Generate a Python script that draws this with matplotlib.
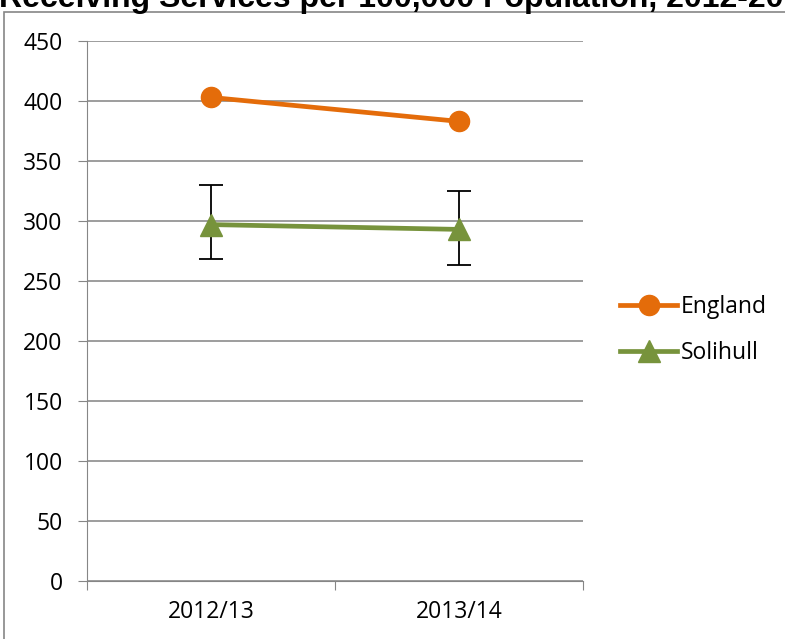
import matplotlib.pyplot as plt
from matplotlib.patches import Rectangle

years = ['2012/13', '2013/14']
england = [403, 383]
solihull = [297, 293]
solihull_upper = [330, 325]
solihull_lower = [268, 263]

W, H = 785, 639
fig = plt.figure(figsize=[W / 100, H / 100], dpi=100)
ax = fig.add_axes([87 / W, 1 - 581 / H, (583 - 87) / W, 540 / H])

# outer chart border (runs off the right and bottom of the export)
fig.patches.append(Rectangle((3.5 / W, -0.1), 1.2, 1 - 12.5 / H + 0.1, transform=fig.transFigure,
                             fill=False, edgecolor='#868686', linewidth=1.2))
# title is clipped by the top edge, as in the original
fig.text(-1 / W, 1 - 7.5 / H, 'Receiving Services per 100,000 Population, 2012-2014',
         fontsize=23, fontweight='bold', family='Liberation Sans', va='baseline', ha='left')

x = [0.5, 1.5]
err_lo = [s - l for s, l in zip(solihull, solihull_lower)]
err_hi = [u - s for s, u in zip(solihull, solihull_upper)]
ax.errorbar(x, solihull, yerr=[err_lo, err_hi], fmt='none', ecolor='black',
            elinewidth=1.3, capsize=8.5, capthick=1.3, zorder=3)
ax.plot(x, england, color='#E46C0A', linewidth=3.4, marker='o', markersize=14.5,
        label='England', zorder=4)
ax.plot(x, solihull, color='#77933C', linewidth=3.4, marker='^', markersize=15.5,
        label='Solihull', zorder=4)

ax.set_xlim(0, 2)
ax.set_ylim(0, 450)
ax.set_yticks(range(0, 451, 50))
ax.set_xticks([0, 1, 2])
ax.set_xticks(x, minor=True)
ax.set_xticklabels(['', '', ''])
ax.set_xticklabels(years, minor=True)
ax.tick_params(axis='x', which='minor', length=0, pad=14)
ax.tick_params(axis='x', which='major', length=6.5, color='#868686')
ax.tick_params(axis='y', length=6.5, color='#868686', pad=11)
for lab in ax.get_xticklabels(minor=True) + ax.get_yticklabels():
    lab.set_family('Open Sans')
    lab.set_fontsize(16.5)
ax.grid(axis='y', color='#8c8c8c', linewidth=1.2)
ax.set_axisbelow(True)
for side in ['top', 'right']:
    ax.spines[side].set_visible(False)
ax.spines['left'].set_color('#868686')
ax.spines['bottom'].set_color('#868686')

leg = fig.legend(loc='center left', bbox_to_anchor=(620 / W, 1 - 330 / H), frameon=False,
                 borderpad=0, borderaxespad=0, handlelength=2.5, handletextpad=0.15,
                 labelspacing=1.0, prop={'family': 'Open Sans', 'size': 16.5})
plt.savefig('out.png', dpi=100)
